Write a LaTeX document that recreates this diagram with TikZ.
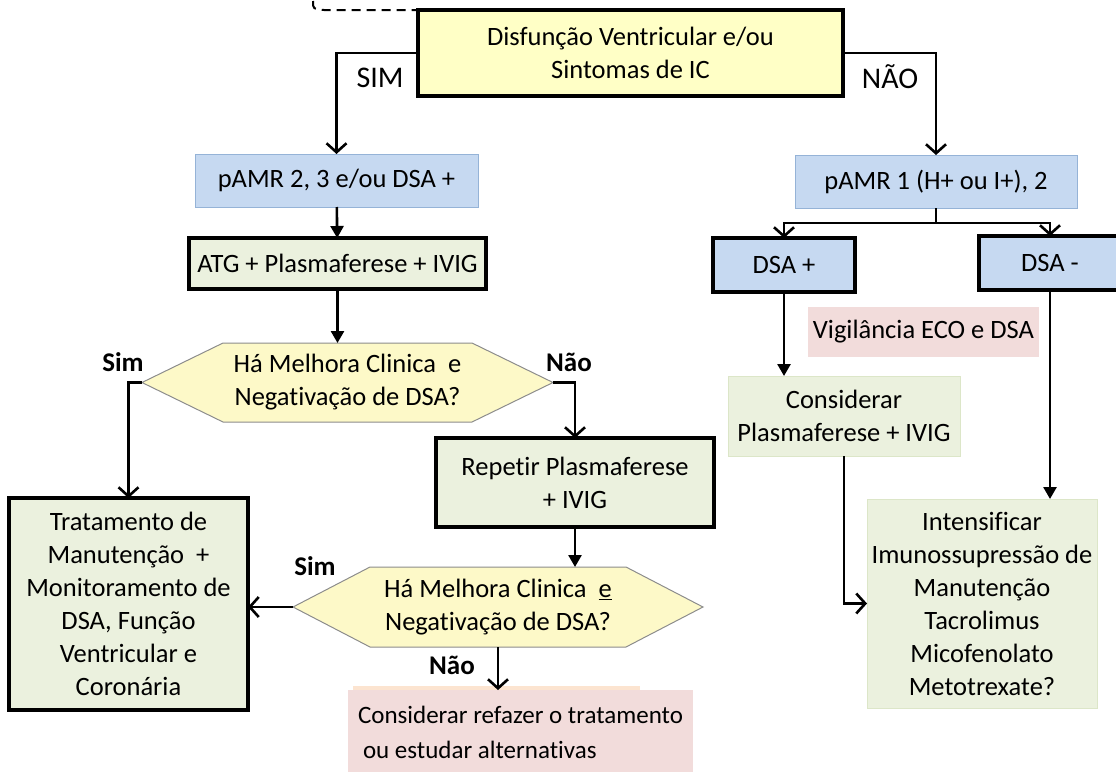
\documentclass[tikz,border=0pt]{standalone}
\usepackage{fontspec}
\setmainfont{Carlito}[Ligatures=NoCommon]
\usetikzlibrary{arrows.meta,backgrounds}
\definecolor{icfill}{HTML}{FFFFC6}
\definecolor{hexfill}{HTML}{FDF9C8}
\definecolor{bluefill}{HTML}{C6D9F1}
\definecolor{bluedraw}{HTML}{95B3D7}
\definecolor{greenfill}{HTML}{EBF1DE}
\definecolor{greendraw}{HTML}{DCE6C8}
\definecolor{pinkfill}{HTML}{F2DCDB}
\definecolor{peach}{HTML}{FCE4D0}
\newcommand\hexpath[2]{\draw[hexline] (#1.west) -- ([xshift=#2pt]#1.north west) -- ([xshift=-#2pt]#1.north east) -- (#1.east) -- ([xshift=-#2pt]#1.south east) -- ([xshift=#2pt]#1.south west) -- cycle;}
\begin{document}
\begin{tikzpicture}[x=1pt,y=-1pt,
	every node/.style={font=\fontsize{26.5}{33}\selectfont,align=center,inner sep=0pt,outer sep=0pt},
	conn/.style={line width=2.6pt},
	arro/.style={conn,-{Straight Barb[length=9pt,width=20pt]}},
	arrf/.style={conn,-{Triangle[length=12pt,width=13pt]}},
	thickbox/.style={draw,line width=3.5pt},
	icbox/.style={draw,line width=4pt,fill=icfill},
	bluebox/.style={draw=bluedraw,line width=1pt,fill=bluefill},
	dsabox/.style={thickbox,fill=bluefill},
	greenbox/.style={draw=greendraw,line width=1pt,fill=greenfill},
	greenthick/.style={thickbox,fill=greenfill},
	pinkbox/.style={fill=pinkfill},
	hexline/.style={draw=black!45,line width=1pt,fill=hexfill},
	lab/.style={font=\fontsize{27}{32}\selectfont\bfseries},
	biglab/.style={font=\fontsize{30}{35}\selectfont}]
	\useasboundingbox (0,0) rectangle (1116,771);
	\clip (0,0) rectangle (1116,771);
	% left branch
	\node[icbox,minimum width=425,minimum height=86] (ic) at (630.5,53) {Disfunção Ventricular e/ou\\Sintomas de IC};
	\node[bluebox,minimum width=283,minimum height=53] (pamrA) at (336.5,180.5) {pAMR 2, 3 e/ou DSA +};
	\node[greenthick,minimum width=297,minimum height=51] (atg) at (337.5,263.5) {ATG + Plasmaferese + IVIG};
	\node[minimum width=411,minimum height=79] (hexA) at (347.5,382.5) {Há Melhora Clinica~ e\\Negativação de DSA?};
	\node[greenthick,minimum width=278,minimum height=89] (rep) at (575,482.5) {Repetir Plasmaferese\\+ IVIG};
	\node[minimum width=410,minimum height=80] (hexB) at (498,607) {Há Melhora Clinica~ \underline{e}\\Negativação de DSA?};
	\node[greenthick,minimum width=239,minimum height=212] (trat) at (128.5,604) {Tratamento de\\Manutenção~ +\\Monitoramento de\\DSA, Função\\Ventricular e\\Coronária};
	\fill[peach] (353,686) rectangle (640,691);
	\node[pinkbox,minimum width=345,minimum height=85,align=left,font=\fontsize{25}{35}\selectfont] (refaz) at (520.5,732.5) {Considerar refazer o tratamento\\\hspace{5pt}ou estudar alternativas};
	% right branch
	\node[bluebox,minimum width=282,minimum height=53] (pamrB) at (936,181.5) {pAMR 1 (H+ ou I+), 2};
	\node[dsabox,minimum width=142,minimum height=54] (dsap) at (784,265) {DSA +};
	\node[dsabox,minimum width=142,minimum height=54] (dsam) at (1050,263) {DSA -};
	\node[pinkbox,minimum width=231,minimum height=50] (vig) at (923.5,332) {Vigilância ECO e DSA};
	\node[greenbox,minimum width=232,minimum height=80] (cons) at (844,416) {Considerar\\Plasmaferese + IVIG};
	\node[greenbox,minimum width=230,minimum height=209] (intens) at (982,603.5) {Intensificar\\Imunossupressão de\\Manutenção\\Tacrolimus\\Micofenolato\\Metotrexate?};
	\begin{scope}[on background layer]
		\hexpath{hexA}{81}
		\hexpath{hexB}{77}
	\end{scope}
	% labels
	\node[biglab] (sim) at (380,78) {SIM};
	\node[biglab] (nao) at (890,77) {NÃO};
	\node[lab] (simA) at (123,362) {Sim};
	\node[lab] (naoA) at (569,362) {Não};
	\node[lab] (simB) at (315,566) {Sim};
	\node[lab] (naoB) at (452,665) {Não};
	% connectors
	\draw[line width=2pt,dash pattern=on 9pt off 6pt] (313,1) .. controls (313,9) .. (324,10) -- (ic.north west);
	\draw[arro] (ic.west) -| (pamrA.north);
	\draw[arro] (ic.east) -| (pamrB.north);
	\draw[arrf] (pamrA) -- (atg);
	\draw[arrf] (atg.south) -- (atg.south |- hexA.north);
	\draw[arro] (hexA.west) -| (trat.north);
	\draw[arro] (hexA.east) -| (rep.north);
	\draw[arrf] (rep.south) -- (rep.south |- hexB.north);
	\draw[arro] (hexB.west) -- (hexB.west -| trat.east);
	\draw[arro] (hexB.south) -- (hexB.south |- refaz.north);
	\draw[conn] (pamrB.south) -- ++(0,15) coordinate (split);
	\draw[arro] (split) -| (dsap.north);
	\draw[arro] (split) -| (dsam.north);
	\draw[arrf] (dsap.south) -- (dsap.south |- cons.north);
	\draw[arrf] (dsam.south) -- (dsam.south |- intens.north);
	\draw[arro] (cons.south) |- (intens.west);
\end{tikzpicture}
\end{document}
